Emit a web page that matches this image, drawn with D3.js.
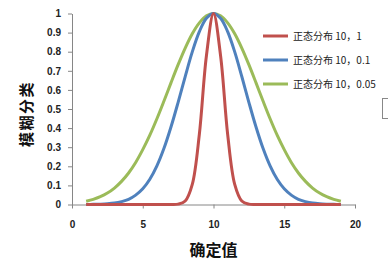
<!DOCTYPE html>
<html>
<head>
<meta charset="utf-8">
<script src="https://cdn.jsdelivr.net/npm/d3@7"></script>
<style>
  body { margin: 0; background: #fff; }
  svg { display: block; font-family: "Liberation Sans", Arial, sans-serif; }
  .tick text { font-size: 10px; font-weight: bold; fill: #222; }
  .axis path, .axis line { stroke: #868686; }
</style>
</head>
<body>
<div id="chart"></div>
<script>
const xValues = [1, 1.5, 2, 2.5, 3, 3.5, 4, 4.5, 5, 5.5, 6, 6.5, 7, 7.5, 8, 8.5, 9, 9.5, 10,
  10.5, 11, 11.5, 12, 12.5, 13, 13.5, 14, 14.5, 15, 15.5, 16, 16.5, 17, 17.5, 18, 18.5, 19];

const red = [0, 0, 0, 0, 0, 0, 0, 0, 0, 0, 0, 0, 0.0001, 0.002, 0.018, 0.105, 0.368, 0.779, 1,
  0.779, 0.368, 0.105, 0.018, 0.002, 0.0001, 0, 0, 0, 0, 0, 0, 0, 0, 0, 0, 0, 0];

const blue = [0.0003, 0.0007, 0.0017, 0.0036, 0.0074, 0.015, 0.027, 0.049, 0.082, 0.132, 0.202,
  0.294, 0.407, 0.535, 0.67, 0.799, 0.905, 0.975, 1, 0.975, 0.905, 0.799, 0.67, 0.535, 0.407,
  0.294, 0.202, 0.132, 0.082, 0.049, 0.027, 0.015, 0.0074, 0.0036, 0.0017, 0.0007, 0.0003];

const green = [0.017, 0.027, 0.041, 0.06, 0.086, 0.121, 0.165, 0.22, 0.287, 0.363, 0.449, 0.542,
  0.638, 0.732, 0.819, 0.894, 0.951, 0.988, 1, 0.988, 0.951, 0.894, 0.819, 0.732, 0.638, 0.542,
  0.449, 0.363, 0.287, 0.22, 0.165, 0.121, 0.086, 0.06, 0.041, 0.027, 0.017];

const seriesNames = ["正态分布 10，1", "正态分布 10，0.1", "正态分布 10，0.05"];
const seriesColors = ["#C0504D", "#4F81BD", "#9BBB59"];
const xTicks = [0, 5, 10, 15, 20];
const yTicks = [0, 0.1, 0.2, 0.3, 0.4, 0.5, 0.6, 0.7, 0.8, 0.9, 1];

const width = 388, height = 264;
const margin = { top: 13.5, right: 33, bottom: 59.5, left: 72 };

const svg = d3.select("#chart").append("svg")
  .attr("width", width).attr("height", height);

const x = d3.scaleLinear().domain([0, 20]).range([margin.left, width - margin.right]);
const y = d3.scaleLinear().domain([0, 1]).range([height - margin.bottom, margin.top]);

// axes
svg.append("g").attr("class", "axis")
  .attr("transform", `translate(0,${y(0)})`)
  .call(d3.axisBottom(x).tickValues(xTicks).tickSize(4).tickPadding(14).tickSizeOuter(0))
  .call(g => g.selectAll("text").attr("dy", "0.5em"));

svg.append("g").attr("class", "axis")
  .attr("transform", `translate(${x(0)},0)`)
  .call(d3.axisLeft(y).tickValues(yTicks).tickFormat(d3.format("")).tickSize(4).tickPadding(7).tickSizeOuter(0));

// series
const allSeries = [red, blue, green];
const line = d3.line()
  .x((d, i) => x(xValues[i]))
  .y(d => y(d))
  .curve(d3.curveCatmullRom.alpha(0.5));

// draw green first so red sits on top, as in the reference
[2, 1, 0].forEach(k => {
  svg.append("path")
    .datum(allSeries[k])
    .attr("fill", "none")
    .attr("stroke", seriesColors[k])
    .attr("stroke-width", 3)
    .attr("stroke-linejoin", "round")
    .attr("d", line);
});

// legend
const legend = svg.append("g").attr("transform", "translate(263,36)");
seriesNames.forEach((name, i) => {
  const row = legend.append("g").attr("transform", `translate(0,${i * 24})`);
  row.append("line").attr("x1", 0).attr("x2", 25)
    .attr("stroke", seriesColors[i]).attr("stroke-width", 3);
  row.append("text").attr("x", 30).attr("dy", "0.35em")
    .attr("font-size", 10).attr("fill", "#222")
    .attr("font-family", "'Noto Sans CJK SC', sans-serif")
    .text(name);
});

// axis titles
svg.append("text")
  .attr("transform", `translate(27,${y(0.5) + 5}) rotate(-90)`)
  .attr("text-anchor", "middle").attr("dy", "0.35em")
  .attr("font-size", 15).attr("font-weight", "bold").attr("fill", "#111")
  .attr("letter-spacing", 1.5)
  .attr("font-family", "'Noto Sans CJK SC', sans-serif")
  .text("模糊分类");

svg.append("text")
  .attr("x", x(10)).attr("y", 250)
  .attr("text-anchor", "middle").attr("dy", "0.35em")
  .attr("font-size", 16).attr("font-weight", "bold").attr("fill", "#111")
  .attr("font-family", "'Noto Sans CJK SC', sans-serif")
  .text("确定值");

// small frame cut off at the right edge
svg.append("rect").attr("x", 382.5).attr("y", 98.5).attr("width", 10).attr("height", 20)
  .attr("fill", "none").attr("stroke", "#888");
</script>
</body>
</html>
